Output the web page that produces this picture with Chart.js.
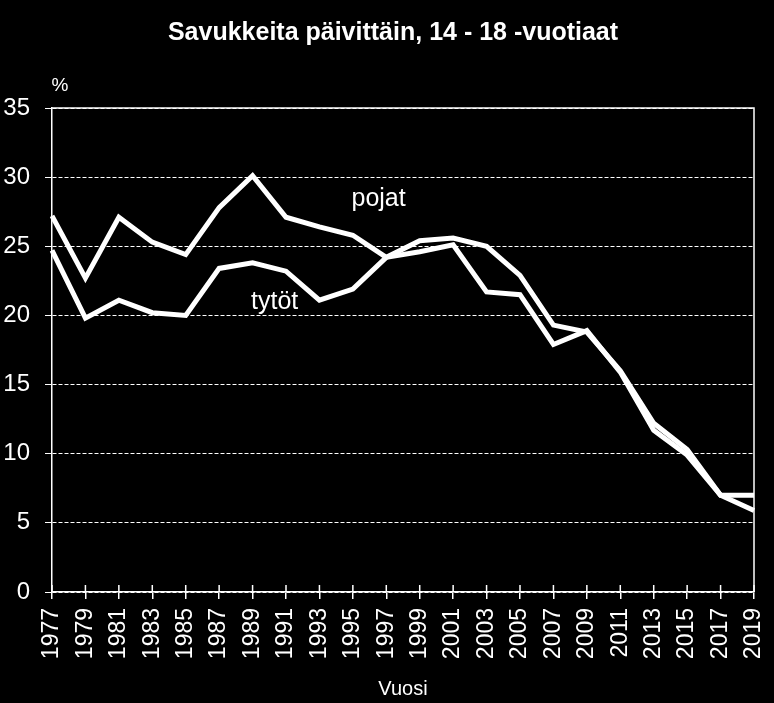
<!DOCTYPE html>
<html>
<head>
<meta charset="utf-8">
<script src="https://cdn.jsdelivr.net/npm/chart.js@4.4.1/dist/chart.umd.min.js"></script>
<style>
  body { margin: 0; background: #000; }
  #wrap { width: 774px; height: 703px; }
</style>
</head>
<body>
<div id="wrap"><canvas id="kuvio" width="774" height="703"></canvas></div>
<script>
// vuodet x-akselille
const vuodet = ["1977", "1979", "1981", "1983", "1985", "1987", "1989", "1991", "1993", "1995", "1997",
  "1999", "2001", "2003", "2005", "2007", "2009", "2011", "2013", "2015", "2017", "2019"];

// päivittäin tupakoivien osuus (%)
const pojat = [27.2, 22.7, 27.1, 25.3, 24.4, 27.8, 30.1, 27.1, 26.4, 25.8, 24.2,
  25.4, 25.6, 25.0, 22.9, 19.3, 18.8, 16.0, 12.2, 10.3, 7.0, 7.0];
const tytot = [24.7, 19.8, 21.1, 20.2, 20.0, 23.4, 23.8, 23.2, 21.1, 21.9, 24.2,
  24.6, 25.1, 21.7, 21.5, 17.9, 18.9, 15.9, 11.7, 9.9, 7.0, 5.9];

const yTicks = [0, 5, 10, 15, 20, 25, 30, 35];

const otsikko = "Savukkeita päivittäin, 14 - 18 -vuotiaat";
const fontti = "'Liberation Sans', Arial, sans-serif";

// otsikko, tekstit ja kehykset kuvaan
const lisaykset = {
  id: "lisaykset",
  afterDraw(chart) {
    const { ctx, chartArea, scales } = chart;
    const x = scales.x, y = scales.y;
    ctx.save();
    ctx.strokeStyle = "#fff";
    ctx.lineWidth = 1.5;
    // ylä- ja oikea reuna
    ctx.beginPath();
    ctx.moveTo(chartArea.left, chartArea.top);
    ctx.lineTo(chartArea.right, chartArea.top);
    ctx.lineTo(chartArea.right, chartArea.bottom);
    ctx.stroke();
    // x-akselin merkit akselin yläpuolelle
    ctx.beginPath();
    vuodet.forEach((v, i) => {
      const px = x.getPixelForValue(i);
      ctx.moveTo(px, chartArea.bottom);
      ctx.lineTo(px, chartArea.bottom - 7);
    });
    ctx.stroke();

    ctx.fillStyle = "#fff";
    ctx.textAlign = "center";
    ctx.textBaseline = "middle";
    ctx.font = "bold 25px " + fontti;
    ctx.fillText(otsikko, (chartArea.left + chartArea.right) / 2 - 10, 33);

    ctx.textBaseline = "alphabetic";
    ctx.font = "19px " + fontti;
    ctx.fillText("%", chartArea.left + 8, y.getPixelForValue(35) - 17);

    ctx.font = "25px " + fontti;
    ctx.fillText("pojat", x.getPixelForValue(9.77), y.getPixelForValue(27.9));
    ctx.fillText("tytöt", x.getPixelForValue(6.66), y.getPixelForValue(20.5));
    ctx.restore();
  }
};

new Chart(document.getElementById("kuvio"), {
  type: "line",
  data: {
    labels: vuodet,
    datasets: [
      { label: "pojat", data: pojat, borderColor: "#fff", borderWidth: 5, pointRadius: 0, tension: 0 },
      { label: "tytöt", data: tytot, borderColor: "#fff", borderWidth: 5, pointRadius: 0, tension: 0 }
    ]
  },
  options: {
    responsive: false,
    animation: false,
    layout: { padding: { left: 0, right: 20, top: 108, bottom: 0 } },
    plugins: {
      legend: { display: false },
      tooltip: { enabled: false },
      title: { display: false }
    },
    scales: {
      x: {
        offset: false,
        afterFit: s => { s.height = 111; s.paddingLeft = 0; s.paddingRight = 0; },
        ticks: {
          color: "#fff",
          font: { family: fontti, size: 23 },
          maxRotation: 90,
          minRotation: 90,
          autoSkip: false,
          padding: 9
        },
        grid: { drawOnChartArea: false, tickLength: 7, color: "#fff", lineWidth: 1.5 },
        border: { color: "#fff", width: 1.5 },
        title: {
          display: true,
          text: "Vuosi",
          color: "#fff",
          font: { family: fontti, size: 20 },
          padding: { top: 0, bottom: 2 }
        }
      },
      y: {
        min: 0,
        max: 35,
        afterFit: s => { s.width = 52; s.paddingTop = 0; s.paddingBottom = 0; },
        afterBuildTicks: s => { s.ticks = yTicks.map(v => ({ value: v })); },
        ticks: {
          color: "#fff",
          font: { family: fontti, size: 24 },
          padding: 15
        },
        grid: { color: "#fff", lineWidth: 1, tickLength: 7 },
        border: { color: "#fff", width: 1.5, dash: [4, 2] }
      }
    }
  },
  plugins: [lisaykset]
});
</script>
</body>
</html>
